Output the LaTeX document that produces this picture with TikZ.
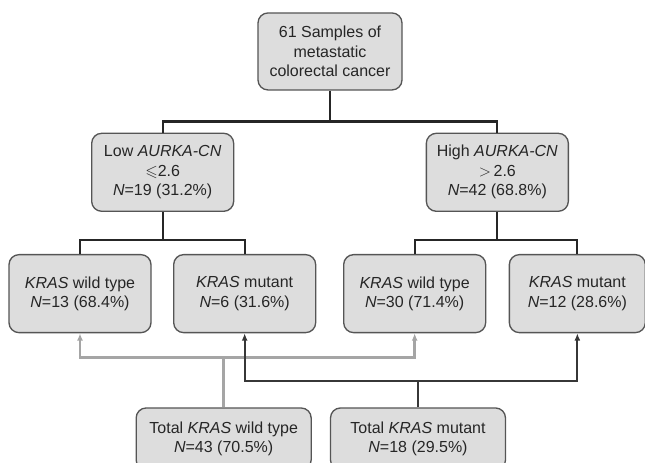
\documentclass[tikz,border=0pt]{standalone}
\usepackage{amssymb}
\usepackage{fontspec}
\setmainfont{Liberation Sans}
\usetikzlibrary{positioning, arrows.meta}
\definecolor{boxfill}{RGB}{221,221,221}
\definecolor{boxline}{RGB}{85,85,85}
\definecolor{wtgray}{RGB}{165,165,165}
\definecolor{mutdark}{RGB}{55,55,55}
\tikzset{
    boxed/.style={draw=boxline, line width=1pt, rectangle, rounded corners=7.5pt, fill=boxfill,
        align=center, text=black!85, minimum width=106.5pt, minimum height=58.5pt, inner sep=2pt,
        font=\fontsize{12}{14.6}\selectfont},
    total/.style={boxed, minimum width=131.25pt, minimum height=46.5pt},
    tree/.style = {line width=1.7pt, black!85},
    wtlink/.style = {line width=1.8pt, wtgray},
    mutlink/.style = {line width=1.6pt, mutdark},
    arr/.style = {-{Latex[length=5.5pt,width=4.5pt]}} }
\newcommand{\kras}{\textit{KRAS}}
\newcommand{\nn}{\textit{N}=}

\begin{document}
\begin{tikzpicture}[node distance=31.5pt]
			\useasboundingbox (0,0) rectangle (483.75pt,-347.25pt);
			\clip (0,0) rectangle (483.75pt,-347.25pt);
			\node[boxed, minimum width=108pt, minimum height=57.75pt] (root) at (247.5pt,-38.6pt) {61 Samples of\\metastatic\\colorectal cancer};
			\node[boxed, below left = 31.5pt and 17.25pt of root] (low) {Low \textit{AURKA-CN}\\$\leqslant$2.6\\\nn19 (31.2\%)};
			\node[boxed, below right = 31.5pt and 17.25pt of root] (high) {High \textit{AURKA-CN}\\$>$\,2.6\\\nn42 (68.8\%)};
			\node[boxed, below = of low, xshift=-62pt] (kwt1) {\kras{} wild type\\\nn13 (68.4\%)};
			\node[boxed, below = of low, xshift=61.5pt] (kmut1) {\kras{} mutant\\\nn6 (31.6\%)};
			\node[boxed, below = of high, xshift=-62pt] (kwt2) {\kras{} wild type\\\nn30 (71.4\%)};
			\node[boxed, below = of high, xshift=60pt, minimum width=102pt] (kmut2) {\kras{} mutant\\\nn12 (28.6\%)};
			\node[total, below = 55.5pt of kmut1, xshift=-15.75pt] (totwt) {Total \kras{} wild type\\\nn43 (70.5\%)};
			\node[total, right = 13.5pt of totwt] (totmut) {Total \kras{} mutant\\\nn18 (29.5\%)};
			% ----
			\coordinate[above = 8.25pt of low.north] (rootjoin);
			\draw[tree] (low.north) -- (rootjoin) -| (high.north);
			\draw[tree] (root.south) -- (root.south |- rootjoin);

			\coordinate[above = 10.5pt of kwt1.north] (lowjoin);
			\draw[tree] (kwt1.north) -- (lowjoin) -| (kmut1.north);
			\draw[tree] (low.south) -- (low.south |- lowjoin);

			\coordinate[above = 10.5pt of kwt2.north] (highjoin);
			\draw[tree] (kwt2.north) -- (highjoin) -| (kmut2.north);
			\draw[tree] (high.south) -- (high.south |- highjoin);

			\coordinate[below = 18pt of kwt1.south] (wtjoin);
			\draw[wtlink] (totwt.north) -- (totwt.north |- wtjoin);
			\draw[wtlink, arr] (totwt.north |- wtjoin) -| (kwt1.south);
			\draw[wtlink, arr] (totwt.north |- wtjoin) -| (kwt2.south);

			\coordinate[below = 36pt of kmut1.south] (mutjoin);
			\draw[mutlink] (totmut.north) -- (totmut.north |- mutjoin);
			\draw[mutlink, arr] (totmut.north |- mutjoin) -| (kmut1.south);
			\draw[mutlink, arr] (totmut.north |- mutjoin) -| (kmut2.south);
		\end{tikzpicture}
\end{document}
